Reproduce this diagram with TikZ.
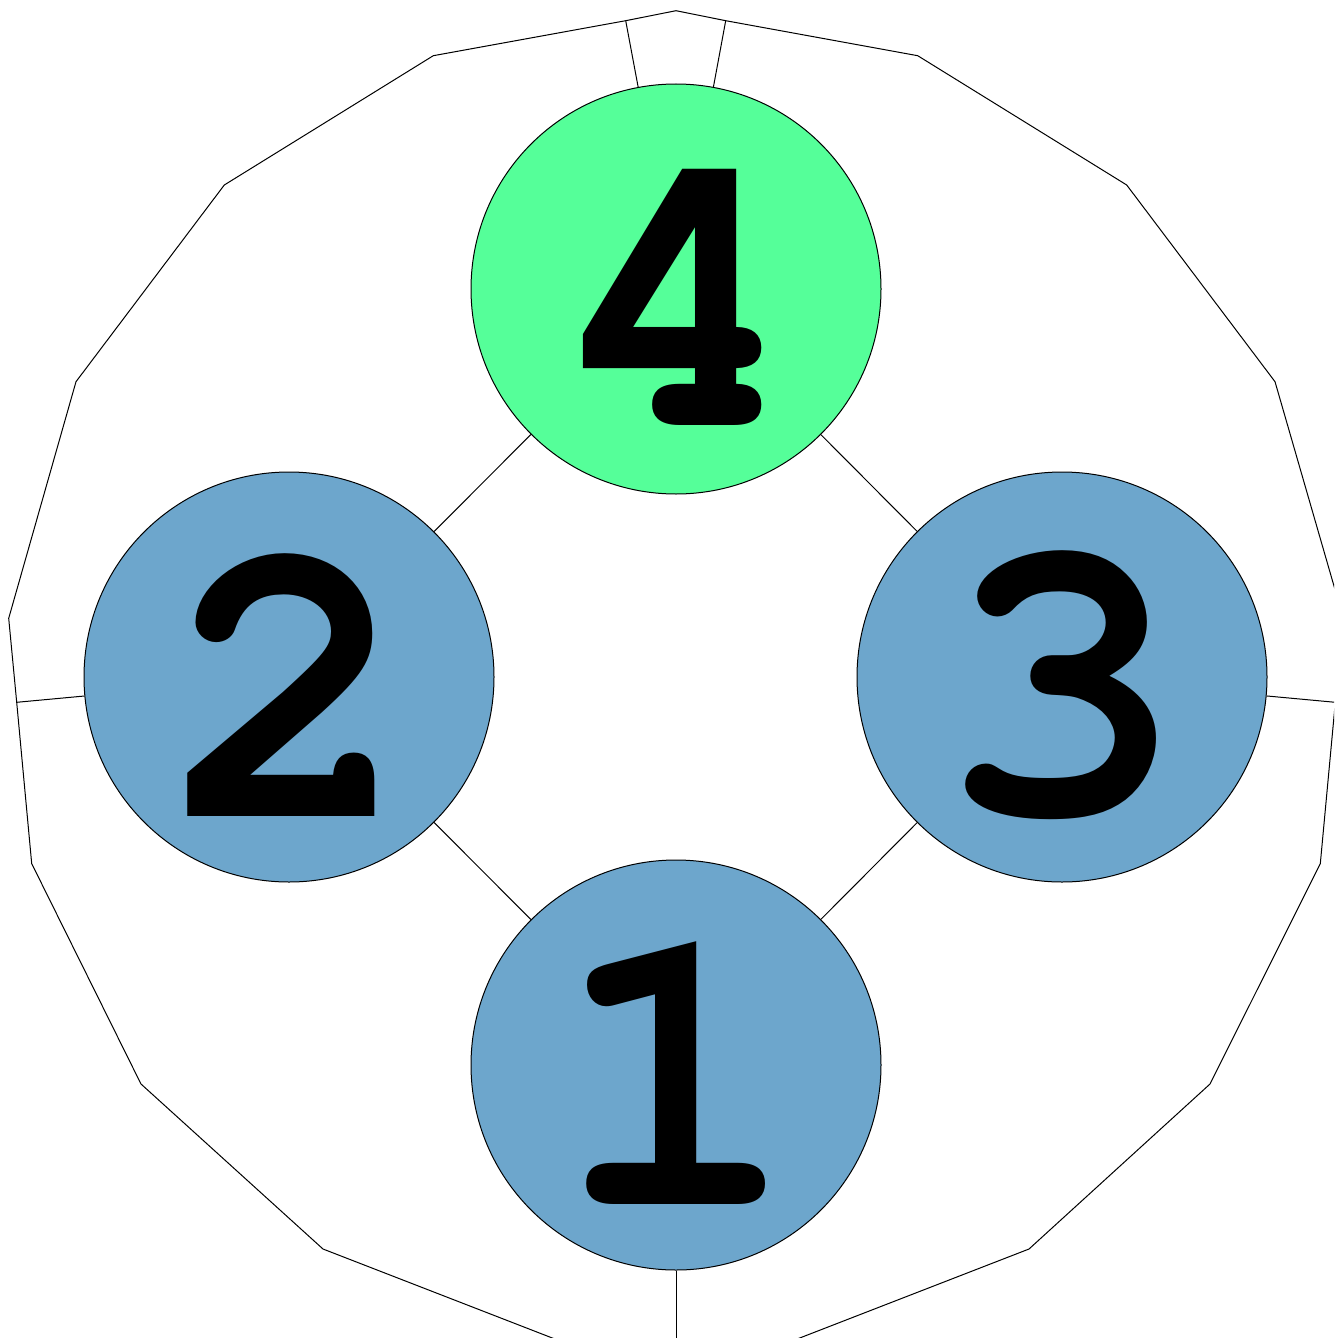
\documentclass[tikz,border=0pt]{standalone}
\usepackage{fontspec}
\newfontfamily\digitfont{texgyrecursor-bold.otf}
\definecolor{greenfill}{HTML}{55FF99}
\definecolor{bluefill}{HTML}{6DA6CC}
\tikzset{
  disc/.style={circle, draw=black, line width=0.5pt, inner sep=0pt},
  edge/.style={draw=black, line width=0.5pt},
  digit/.style={font=\digitfont\fontsize{206}{206}\selectfont, yshift=-4pt}
}
\begin{document}
\begin{tikzpicture}[x=0.5pt,y=-0.5pt]
\useasboundingbox (0,0) rectangle (1334,1338);
\clip (0,0) rectangle (1334,1338);
% outer polygon
\draw[edge] (676,10.7) -- (725.7,20.7) -- (917.7,55.7) -- (1126.7,185) -- (1275,381.7)
  -- (1343.3,618.3) -- (1335.3,702.3) -- (1320.3,863.6) -- (1210,1084) -- (1029,1249)
  -- (676,1386) -- (323,1249) -- (141,1084) -- (31.7,863.6) -- (16.7,702.3)
  -- (8.7,618.3) -- (76,381.7) -- (224.3,185) -- (433.3,55.7) -- (625.7,20.7) -- cycle;
\coordinate (s4a) at (625.7,20.7);
\coordinate (s4b) at (725.7,20.7);
\coordinate (s2) at (16.7,702.3);
\coordinate (s3) at (1335.3,702.3);
\coordinate (s1) at (676,1386);
% nodes
\node[disc, fill=greenfill, minimum size=205pt] (n4) at (676,289) {};
\node[disc, fill=bluefill, minimum size=205pt] (n2) at (289,677) {};
\node[disc, fill=bluefill, minimum size=205pt] (n3) at (1062,677) {};
\node[disc, fill=bluefill, minimum size=205pt] (n1) at (676,1065) {};
\node[digit] (t4) at (n4.center) {4};
\node[digit] (t2) at (n2.center) {2};
\node[digit] (t3) at (n3.center) {3};
\node[digit] (t1) at (n1.center) {1};
% connectors
\draw[edge] (n4) -- (n2);
\draw[edge] (n4) -- (n3);
\draw[edge] (n2) -- (n1);
\draw[edge] (n3) -- (n1);
\draw[edge] (n4) -- (s4a);
\draw[edge] (n4) -- (s4b);
\draw[edge] (n2) -- (s2);
\draw[edge] (n3) -- (s3);
\draw[edge] (n1) -- (s1);
\end{tikzpicture}
\end{document}
